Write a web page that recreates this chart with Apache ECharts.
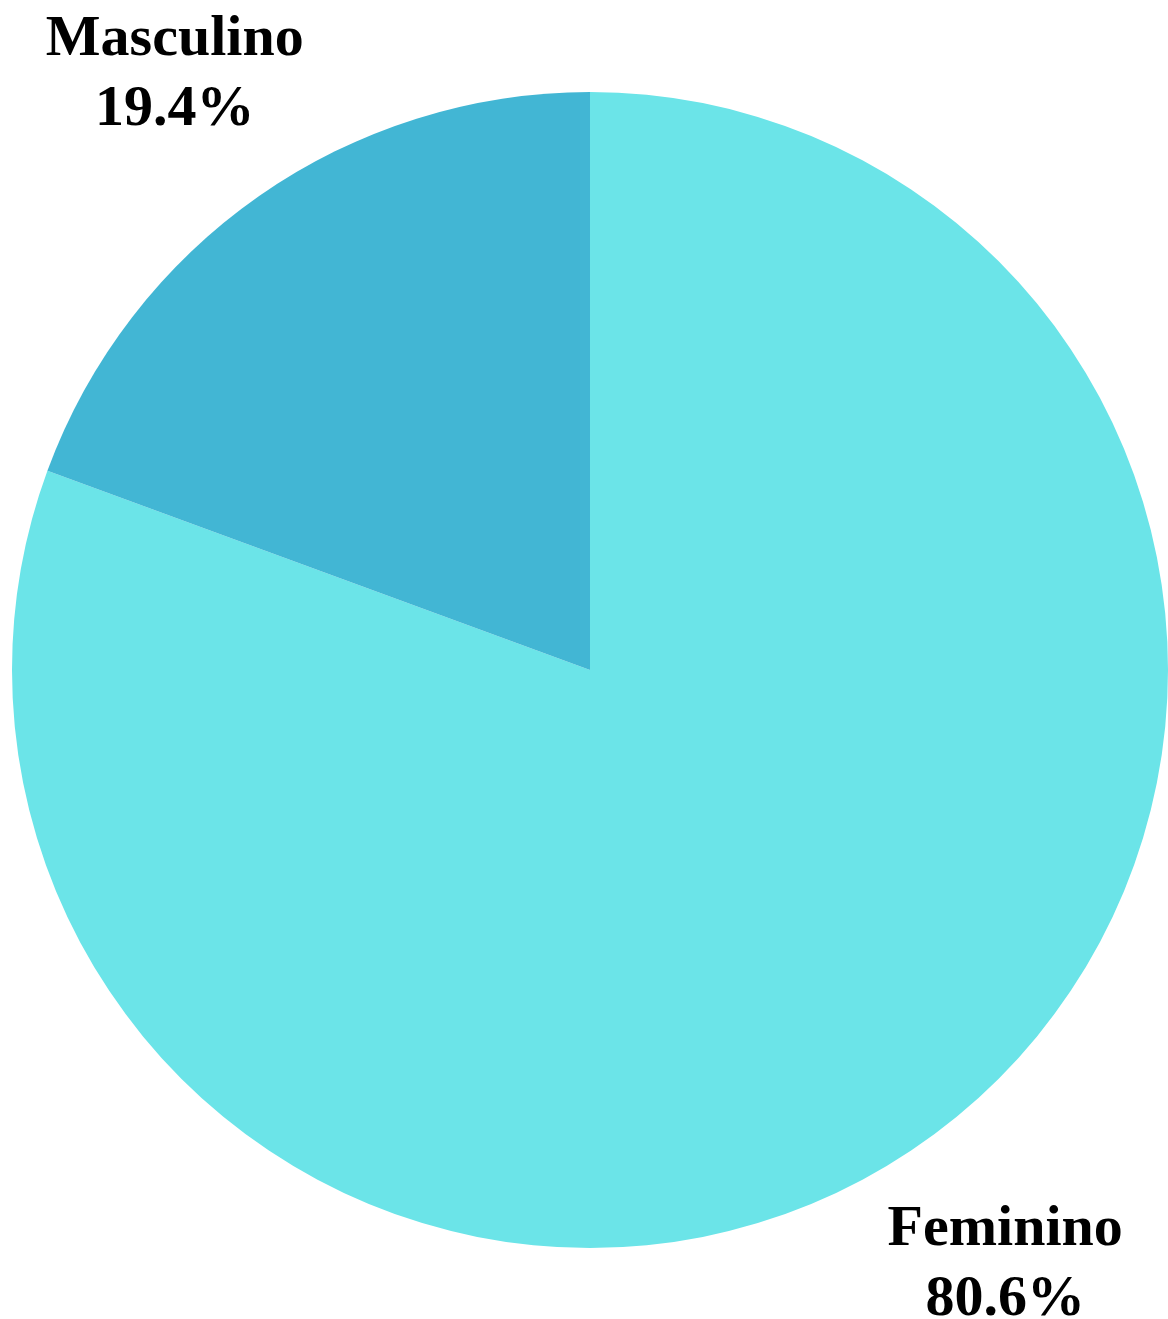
<!DOCTYPE html>
<html>
<head>
<meta charset="utf-8">
<script src="https://cdn.jsdelivr.net/npm/echarts@6/dist/echarts.min.js"></script>
<style>
html,body{margin:0;padding:0;background:#fff;}
#chart{width:1168px;height:1319px;}
</style>
</head>
<body>
<div id="chart"></div>
<script>
const categories = ['Feminino', 'Masculino'];
const values = [80.6, 19.4];
const colors = ['#6BE4E8', '#42B6D4'];

const CX = 590, CY = 670, R = 578, LABEL_FACTOR = 1.255;
const total = values.reduce((a, b) => a + b, 0);

function midAngle(i) {
  let before = 0;
  for (let k = 0; k < i; k++) before += values[k];
  const mid = before + values[i] / 2;
  return (90 - mid / total * 360) * Math.PI / 180;
}

const chart = echarts.init(document.getElementById('chart'), null, {renderer: 'canvas'});
chart.setOption({
  backgroundColor: '#ffffff',
  animation: false,
  series: [{
    type: 'pie',
    center: [CX, CY],
    radius: [0, R],
    startAngle: 90,
    clockwise: true,
    avoidLabelOverlap: false,
    data: categories.map((c, i) => ({name: c, value: values[i], itemStyle: {color: colors[i]}})),
    itemStyle: {borderWidth: 0},
    emphasis: {disabled: true},
    label: {
      show: true,
      position: 'outside',
      formatter: p => p.name + '\n' + p.value.toFixed(1) + '%',
      fontFamily: 'Liberation Serif',
      fontWeight: 'bold',
      fontSize: 58,
      lineHeight: 70,
      color: '#000',
      align: 'center'
    },
    labelLine: {show: false},
    labelLayout: function (params) {
      const a = midAngle(params.dataIndex);
      const d = R * LABEL_FACTOR;
      return {
        x: CX + d * Math.cos(a),
        y: CY - d * Math.sin(a),
        align: 'center',
        verticalAlign: 'middle'
      };
    }
  }]
});
</script>
</body>
</html>
